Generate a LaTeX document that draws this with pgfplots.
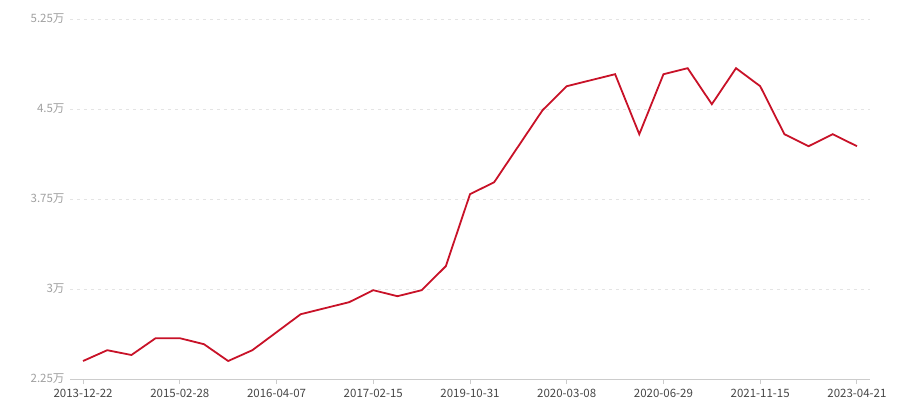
\documentclass[border=0pt]{standalone}
\usepackage{fontspec}
\setmainfont{Noto Sans CJK SC}
\usepackage{pgfplots}
\pgfplotsset{compat=1.18}
\definecolor{linered}{RGB}{200,18,40}
\definecolor{gridgray}{RGB}{228,228,228}
\definecolor{axisgray}{RGB}{204,204,204}
\definecolor{ylabgray}{RGB}{160,160,160}
\definecolor{xlabgray}{RGB}{70,70,70}
\begin{document}
\begin{tikzpicture}[x=1pt,y=1pt]
\path[use as bounding box] (0,0) rectangle (900,400);
\begin{axis}[
  at={(70pt,21pt)}, anchor=south west,
  scale only axis, width=800pt, height=360pt,
  xmin=-0.54, xmax=32.54, ymin=2.25, ymax=5.25,
  axis x line*=bottom, axis y line*=left,
  x axis line style={draw=axisgray, line width=1pt, -},
  y axis line style={draw=none},
  xtick={0,4,...,32},
  xticklabels={2013-12-22,2015-02-28,2016-04-07,2017-02-15,2019-10-31,2020-03-08,2020-06-29,2021-11-15,2023-04-21},
  xtick style={draw=axisgray, line width=1pt},
  xtick align=outside, major tick length=5pt,
  x tick label style={font=\fontsize{11.5}{13}\selectfont, text=xlabgray, yshift=-2pt},
  ytick={2.25,3,3.75,4.5,5.25},
  yticklabels={2.25万,3万,3.75万,4.5万,5.25万},
  ymajorgrids, major grid style={draw=gridgray, dash pattern=on 3pt off 4pt, line width=0.8pt},
  y tick label style={font=\fontsize{11.5}{13}\selectfont, text=ylabgray, xshift=-2pt},
  ytick style={draw=none},
  clip=false,
]
\addplot[linered, line width=1.8pt, mark=none] coordinates {
(0,2.40) (1,2.49) (2,2.45) (3,2.59) (4,2.59) (5,2.54) (6,2.40) (7,2.49)
(8,2.64) (9,2.79) (10,2.84) (11,2.89) (12,2.99) (13,2.94) (14,2.99) (15,3.19)
(16,3.79) (17,3.89) (18,4.19) (19,4.49) (20,4.69) (21,4.74) (22,4.79) (23,4.29)
(24,4.79) (25,4.84) (26,4.54) (27,4.84) (28,4.69) (29,4.29) (30,4.19) (31,4.29)
(32,4.19)};
\end{axis}
\end{tikzpicture}
\end{document}
